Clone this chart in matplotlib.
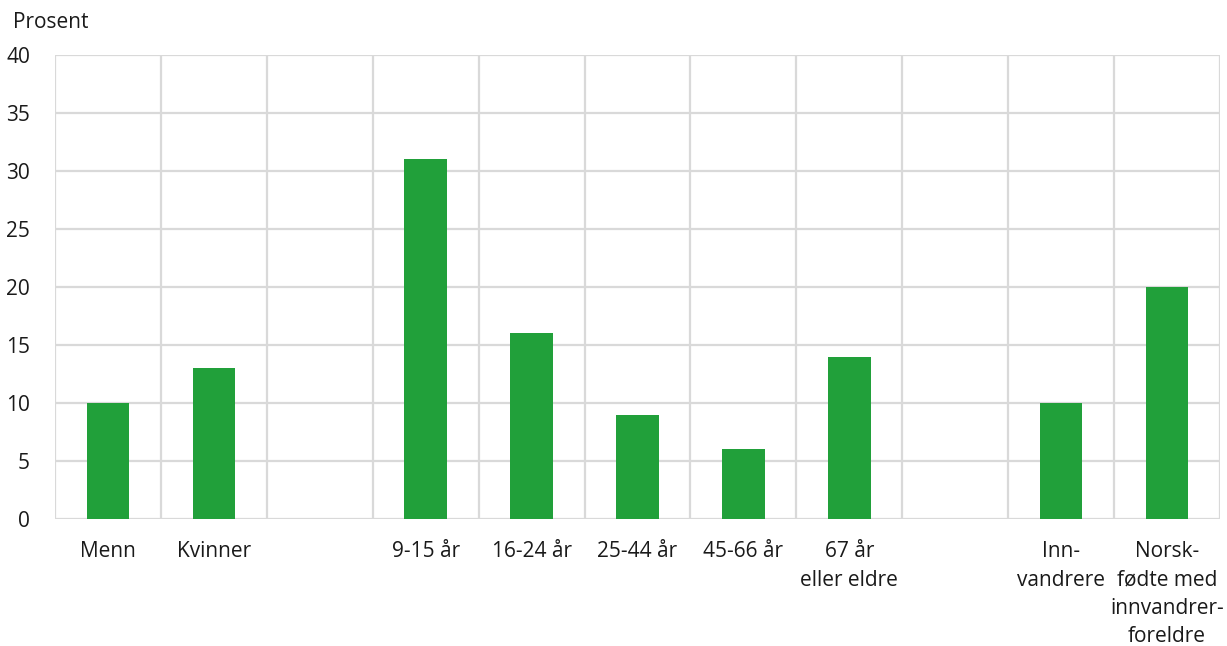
import matplotlib
matplotlib.use("Agg")
from matplotlib import pyplot as plt
import numpy as np

plt.rcParams["font.family"] = ["Open Sans", "DejaVu Sans"]

categories = ["Menn", "Kvinner", "", "9-15 år", "16-24 år", "25-44 år", "45-66 år",
              "67 år\neller eldre", "", "Inn-\nvandrere", "Norsk-\nfødte med\ninnvandrer-\nforeldre"]
values = [10, 13, np.nan, 31, 16, 9, 6, 14, np.nan, 10, 20]
yticks = [0, 5, 10, 15, 20, 25, 30, 35, 40]

GREEN = "#21a03a"
GRID = "#d9d9d9"
FS = 15

fig = plt.figure(figsize=(12.27, 6.46), dpi=100)
ax = fig.add_axes([55 / 1227, 1 - 519 / 646, (1220 - 55) / 1227, (519 - 55) / 646])

x = np.arange(len(categories))
ax.bar(x, values, width=0.4, color=GREEN, zorder=3)

ax.set_xlim(-0.5, len(categories) - 0.5)
ax.set_ylim(0, 40)
ax.set_yticks(yticks)
ax.set_xticks(x)
ax.set_xticklabels(categories, fontsize=FS, color="#1a1a1a", linespacing=1.46, va="top")
ax.set_xticks(np.arange(-0.5, len(categories)), minor=True)
ax.tick_params(axis="x", which="both", length=0, pad=16)
ax.tick_params(axis="y", length=0, pad=18, labelsize=FS, labelcolor="#1a1a1a")

ax.grid(axis="y", which="major", color=GRID, linewidth=1.6, zorder=0)
ax.grid(axis="x", which="minor", color=GRID, linewidth=1.6, zorder=0)
ax.grid(axis="x", which="major", visible=False)
for s in ax.spines.values():
    s.set_visible(False)

fig.text(13 / 1227, 1 - 22 / 646, "Prosent", fontsize=FS, color="#1a1a1a", va="center")

fig.savefig("out.png", dpi=100)
